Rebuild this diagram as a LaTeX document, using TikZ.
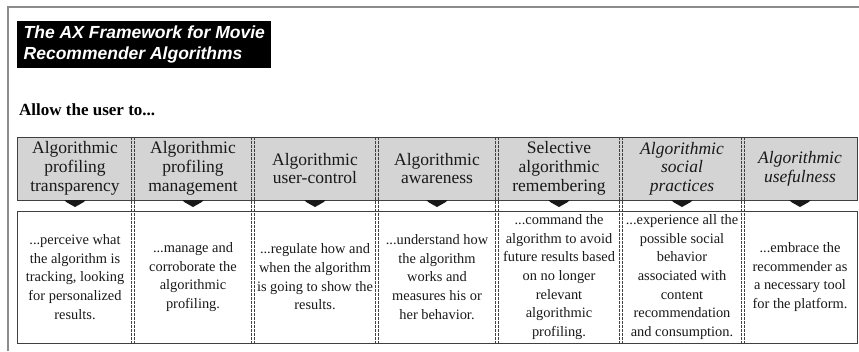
\documentclass[tikz,border=0pt]{standalone}
\usepackage{fontspec}
\setmainfont{Liberation Serif}
\newfontfamily\titlefont{Liberation Sans}
\definecolor{framec}{HTML}{8C8C8C}
\definecolor{bandfill}{HTML}{D4D4D4}
\definecolor{boxline}{HTML}{404040}
\tikzset{
  headtext/.style={align=center, inner sep=0pt, font=\fontsize{17.5}{18.7}\selectfont, text=black!90},
  bodytext/.style={align=center, inner sep=0pt, font=\fontsize{14.4}{18.6}\selectfont, text=black!90},
  divider/.style={draw=boxline, line width=0.6pt, dash pattern=on 2.5pt off 1.5pt},
  pointer/.style={fill=black!90, draw=none},
}
\begin{document}
\begin{tikzpicture}[x=1pt,y=-1pt]
\useasboundingbox (0,0) rectangle (859,351);
% outer frame
\draw[framec, line width=1.4pt] (8,351) |- (859,7);
% title
\node (title) [fill=black, text=white, anchor=north west, align=left,
  inner xsep=6.5pt, inner ysep=0pt, minimum height=47pt,
  font=\titlefont\bfseries\itshape\fontsize{17.5}{20.5}\selectfont] at (17,21)
  {The AX Framework for Movie\\Recommender Algorithms};
\node (allow) [anchor=base west, inner sep=0pt, font=\bfseries\fontsize{17}{20}\selectfont] at (19,115) {Allow the user to...};
% band and body boxes
\node (band) [draw=boxline, fill=bandfill, line width=0.8pt, anchor=north west, minimum width=840pt, minimum height=63pt, inner sep=0pt] at (17,137) {};
\node (body) [draw=boxline, fill=white, line width=0.8pt, anchor=north west, minimum width=840pt, minimum height=132pt, inner sep=0pt] at (17,211) {};
% dividers
\foreach \x in {133,253,377,497,621,743}{
  \draw[divider] (\x-1.6,137) -- (\x-1.6,343);
  \draw[divider] (\x+1.6,137) -- (\x+1.6,343);
}
% pointers
\foreach \x in {75,193,315,437,559,682,800}{
  \fill[pointer] (\x-11,200) -- (\x+11,200) -- (\x+8,202.5) -- (\x,207) -- (\x-8,202.5) -- cycle;
}
% headings
\node (h1) [headtext] at (75,168.5) {Algorithmic\\profiling\\transparency};
\node (h2) [headtext] at (193,168.5) {Algorithmic\\profiling\\management};
\node (h3) [headtext] at (315,168.5) {Algorithmic\\user-control};
\node (h4) [headtext] at (437,168.5) {Algorithmic\\awareness};
\node (h5) [headtext] at (559,168.5) {Selective\\algorithmic\\remembering};
\node (h6) [headtext, font=\itshape\fontsize{17.5}{18.7}\selectfont] at (682,168.5) {Algorithmic\\social\\practices};
\node (h7) [headtext, font=\itshape\fontsize{17.5}{18.7}\selectfont] at (800,168.5) {Algorithmic\\usefulness};
% bodies
\node (b1) [bodytext] at (75,277) {...perceive what\\the algorithm is\\tracking, looking\\for personalized\\results.};
\node (b2) [bodytext] at (193,277) {...manage and\\corroborate the\\algorithmic\\profiling.};
\node (b3) [bodytext] at (315,277) {...regulate how and\\when the algorithm\\is going to show the\\results.};
\node (b4) [bodytext] at (437,277) {...understand how\\the algorithm\\works and\\measures his or\\her behavior.};
\node (b5) [bodytext] at (559,277) {...command the\\algorithm to avoid\\future results based\\on no longer\\relevant\\algorithmic\\profiling.};
\node (b6) [bodytext] at (682,277) {...experience all the\\possible social\\behavior\\associated with\\content\\recommendation\\and consumption.};
\node (b7) [bodytext] at (800,277) {...embrace the\\recommender as\\a necessary tool\\for the platform.};
\end{tikzpicture}
\end{document}
